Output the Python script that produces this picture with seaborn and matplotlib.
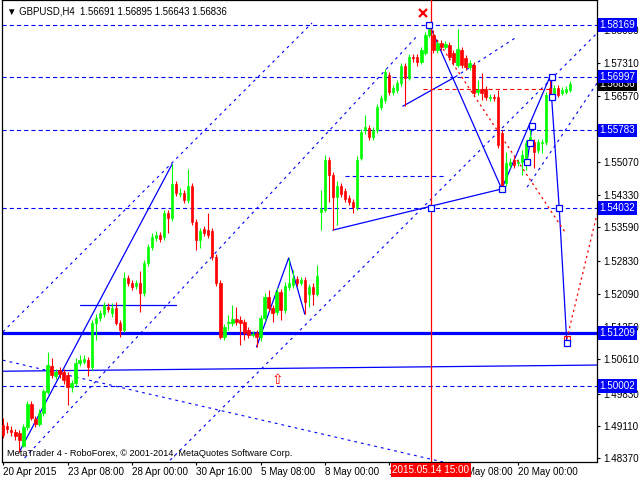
import matplotlib
matplotlib.use("Agg")
import matplotlib.pyplot as plt
import matplotlib.transforms as mtransforms
import numpy as np
import pandas as pd
import seaborn as sns

sns.set_style("white")
plt.rcParams['font.family'] = ['Liberation Sans', 'DejaVu Sans']
plt.rcParams['lines.scale_dashes'] = False

header_text = "▼ GBPUSD,H4  1.56691 1.56895 1.56643 1.56836"
copyright_text = "MetaTrader 4 - RoboForex, © 2001-2014, MetaQuotes Software Corp."

opens = [1.4913, 1.4910, 1.4901, 1.4897, 1.4894, 1.4865, 1.4908, 1.4960, 1.4926, 1.4915,
         1.4940, 1.4987, 1.5046, 1.5023, 1.5037, 1.5032, 1.5026, 1.4998, 1.5007, 1.5053,
         1.5055, 1.5059, 1.5044, 1.5143, 1.5154, 1.5163, 1.5179, 1.5166, 1.5177, 1.5143,
         1.5127, 1.5245, 1.5233, 1.5227, 1.5233, 1.5211, 1.5279, 1.5315, 1.5335, 1.5342,
         1.5337, 1.5392, 1.5380, 1.5457, 1.5435, 1.5437, 1.5421, 1.5453, 1.5371, 1.5331,
         1.5355, 1.5353, 1.5351, 1.5292, 1.5233, 1.5111, 1.5143, 1.5143, 1.5152, 1.5150,
         1.5145, 1.5127, 1.5116, 1.5120, 1.5111, 1.5154, 1.5202, 1.5177, 1.5168, 1.5213,
         1.5172, 1.5224, 1.5229, 1.5242, 1.5233, 1.5240, 1.5209, 1.5224, 1.5209, 1.5394,
         1.5398, 1.5511, 1.5478, 1.5428, 1.5453, 1.5441, 1.5426, 1.5416, 1.5405, 1.5516,
         1.5579, 1.5584, 1.5563, 1.5579, 1.5631, 1.5647, 1.5703, 1.5665, 1.5670, 1.5685,
         1.5724, 1.5697, 1.5744, 1.5744, 1.5733, 1.5753, 1.5794, 1.5794, 1.5760, 1.5776,
         1.5767, 1.5771, 1.5753, 1.5726, 1.5760, 1.5742, 1.5722, 1.5726, 1.5665, 1.5672,
         1.5672, 1.5652, 1.5654, 1.5654, 1.5572, 1.5459, 1.5500, 1.5511, 1.5505, 1.5507,
         1.5511, 1.5550, 1.5552, 1.5534, 1.5550, 1.5552, 1.5674, 1.5658, 1.5674, 1.5663,
         1.5665, 1.56691]
highs = [1.4928, 1.4919, 1.4910, 1.4903, 1.4901, 1.4915, 1.4967, 1.4967, 1.4933, 1.4949,
         1.4994, 1.5077, 1.5064, 1.5039, 1.5044, 1.5039, 1.5032, 1.5014, 1.5064, 1.5071,
         1.5071, 1.5066, 1.5150, 1.5163, 1.5172, 1.5190, 1.5188, 1.5188, 1.5190, 1.5150,
         1.5258, 1.5252, 1.5240, 1.5240, 1.5261, 1.5285, 1.5322, 1.5346, 1.5351, 1.5349,
         1.5398, 1.5398, 1.5502, 1.5464, 1.5448, 1.5444, 1.5491, 1.5459, 1.5378, 1.5358,
         1.5362, 1.5392, 1.5358, 1.5299, 1.5240, 1.5141, 1.5161, 1.5184, 1.5179, 1.5159,
         1.5152, 1.5134, 1.5125, 1.5127, 1.5161, 1.5211, 1.5218, 1.5184, 1.5222, 1.5220,
         1.5236, 1.5290, 1.5263, 1.5249, 1.5247, 1.5247, 1.5231, 1.5233, 1.5274, 1.5444,
         1.5523, 1.5518, 1.5484, 1.5464, 1.5459, 1.5448, 1.5432, 1.5423, 1.5520, 1.5581,
         1.5613, 1.5591, 1.5586, 1.5638, 1.5658, 1.5717, 1.5710, 1.5681, 1.5692, 1.5731,
         1.5731, 1.5751, 1.5751, 1.5751, 1.5767, 1.5801, 1.58169, 1.5805, 1.5783, 1.5783,
         1.5780, 1.5778, 1.5760, 1.5807, 1.5767, 1.5749, 1.5737, 1.5733, 1.5692, 1.5708,
         1.5679, 1.5661, 1.5661, 1.5670, 1.5579, 1.5529, 1.5516, 1.5518, 1.5514, 1.5534,
         1.5557, 1.5588, 1.5559, 1.5559, 1.5559, 1.5665, 1.56997, 1.5681, 1.5681, 1.5676,
         1.5679, 1.56895]
lows = [1.4883, 1.4894, 1.4888, 1.4879, 1.4852, 1.4863, 1.4901, 1.4924, 1.4908, 1.4910,
        1.4933, 1.4983, 1.5019, 1.5017, 1.5019, 1.5005, 1.4958, 1.4987, 1.5001, 1.5046,
        1.5050, 1.5023, 1.5037, 1.5105, 1.5148, 1.5157, 1.5168, 1.5157, 1.5139, 1.5111,
        1.5123, 1.5227, 1.5218, 1.5220, 1.5168, 1.5204, 1.5272, 1.5308, 1.5328, 1.5326,
        1.5331, 1.5346, 1.5374, 1.5430, 1.5428, 1.5414, 1.5414, 1.5365, 1.5308, 1.5313,
        1.5340, 1.5335, 1.5285, 1.5227, 1.5107, 1.5105, 1.5127, 1.5136, 1.5139, 1.5093,
        1.5105, 1.5109, 1.5111, 1.5089, 1.5102, 1.5148, 1.5170, 1.5145, 1.5161, 1.5150,
        1.5166, 1.5218, 1.5222, 1.5227, 1.5229, 1.5163, 1.5179, 1.5184, 1.5204, 1.5353,
        1.5394, 1.5416, 1.5353, 1.5365, 1.5428, 1.5416, 1.5410, 1.5392, 1.5398, 1.5511,
        1.5570, 1.5557, 1.5557, 1.5572, 1.5624, 1.5640, 1.5658, 1.5658, 1.5663, 1.5679,
        1.5633, 1.5692, 1.5733, 1.5724, 1.5728, 1.5749, 1.5789, 1.5753, 1.5753, 1.5760,
        1.5762, 1.5737, 1.5726, 1.5722, 1.5719, 1.5715, 1.5715, 1.5656, 1.5658, 1.5647,
        1.5647, 1.5645, 1.5645, 1.5538, 1.5446, 1.5453, 1.5493, 1.5493, 1.5498, 1.5478,
        1.5489, 1.5543, 1.5493, 1.5527, 1.5527, 1.5545, 1.5647, 1.5654, 1.5654, 1.5658,
        1.5661, 1.56643]
closes = [1.4890, 1.4903, 1.4897, 1.4888, 1.4879, 1.4908, 1.4960, 1.4928, 1.4915, 1.4940,
          1.4989, 1.5048, 1.5026, 1.5032, 1.5028, 1.5014, 1.4998, 1.5007, 1.5053, 1.5059,
          1.5062, 1.5044, 1.5143, 1.5154, 1.5166, 1.5184, 1.5175, 1.5177, 1.5143, 1.5127,
          1.5245, 1.5233, 1.5224, 1.5233, 1.5211, 1.5279, 1.5315, 1.5337, 1.5342, 1.5333,
          1.5392, 1.5380, 1.5457, 1.5437, 1.5437, 1.5421, 1.5453, 1.5371, 1.5331, 1.5351,
          1.5346, 1.5342, 1.5292, 1.5233, 1.5111, 1.5134, 1.5145, 1.5152, 1.5145, 1.5143,
          1.5120, 1.5116, 1.5118, 1.5111, 1.5154, 1.5202, 1.5177, 1.5166, 1.5213, 1.5172,
          1.5227, 1.5233, 1.5245, 1.5233, 1.5240, 1.5190, 1.5224, 1.5209, 1.5249, 1.5401,
          1.5511, 1.5478, 1.5428, 1.5453, 1.5435, 1.5423, 1.5416, 1.5405, 1.5511, 1.5575,
          1.5586, 1.5563, 1.5579, 1.5631, 1.5652, 1.5710, 1.5665, 1.5674, 1.5685, 1.5724,
          1.5697, 1.5744, 1.5742, 1.5733, 1.5760, 1.5794, 1.5807, 1.5760, 1.5776, 1.5767,
          1.5774, 1.5744, 1.5733, 1.5762, 1.5726, 1.5722, 1.5731, 1.5663, 1.5672, 1.5663,
          1.5654, 1.5654, 1.5652, 1.5545, 1.5450, 1.5505, 1.5507, 1.5500, 1.5507, 1.5523,
          1.5550, 1.5563, 1.5529, 1.5552, 1.5552, 1.5658, 1.5654, 1.5674, 1.5658, 1.5670,
          1.5672, 1.56836]

# time axis labels (bar index of each label)
date_tick_bars = [0, 16, 32, 48, 64, 80, 96, 112, 128]
date_tick_labels = ['20 Apr 2015', '23 Apr 08:00', '28 Apr 00:00', '30 Apr 16:00',
                    '5 May 08:00', '8 May 00:00', '12 May 16:00', '15 May 08:00', '20 May 00:00']
price_ticks = [1.5805, 1.5731, 1.5657, 1.5583, 1.5507, 1.5433, 1.5359, 1.5283,
               1.5209, 1.5135, 1.5061, 1.4983, 1.4911, 1.4837]
hidden_price_ticks = [1.5583]   # fully covered by a level box in the reference

# horizontal levels
dashed_levels = [1.58169, 1.56997, 1.55783, 1.54032, 1.50002]
thick_level = 1.51209
current_price = 1.56836

# zigzag and trend lines (bar index, price)
zz1_x, zz1_y = [4, 42], [1.4852, 1.5502]
zz2_x, zz2_y = [63, 71, 75], [1.5089, 1.5290, 1.5163]
zz3_x, zz3_y = [106, 124, 136], [1.58169, 1.5446, 1.56997]
proj_x, proj_y = [136.4, 136.4, 138.3, 140.2], [1.56997, 1.5654, 1.54032, 1.5098]
trendF_x, trendF_y = [82, 124], [1.5353, 1.5446]
trendG_x, trendG_y = [99.4, 112.4], [1.5633, 1.5699]
trendG_ext_x, trendG_ext_y = [112.4, 127.3], [1.5699, 1.5787]
base_x, base_y = [-0.3, 147.7], [1.5034, 1.5048]
short_x, short_y = [19.1, 43], [1.5184, 1.5184]
mini_x, mini_y = [130.3, 131.0, 131.5], [1.5507, 1.5550, 1.5588]
short_dash_x, short_dash_y = [85, 109.6], [1.5475, 1.5475]

dotted_lines = [
    ([-0.1, 76.8], [1.5123, 1.5821]),
    ([5.3, 103.2], [1.4838, 1.5794]),
    ([41.5, 147.7], [1.4833, 1.5798]),
    ([130.3, 147.7], [1.5450, 1.5685]),
    ([-0.1, 109.4], [1.5059, 1.4829]),
]

red_vline_x = 106.4
red_vline_label = "2015.05.14 15:00"
red_dash_x, red_dash_y = [104.4, 136.5], [1.5671, 1.5671]
red_dot1_x, red_dot1_y = [107.9, 139.7], [1.5783, 1.5349]
red_dot2_x, red_dot2_y = [140.2, 147.7], [1.5107, 1.5389]
red_x_mark = (104.4, 1.5844)
red_arrow = (68.3, 1.5014)

square_x = [106, 124, 136.4, 136.4, 138.3, 140.2, 131.5, 131.0, 130.3, 106.4]
square_y = [1.58169, 1.5446, 1.56997, 1.5654, 1.54032, 1.5098, 1.5588, 1.5550, 1.5507, 1.54032]
red_square = (140.2, 1.5107)

BLUE = '#0000ff'
RED = '#ff0000'
GREEN = '#00ff00'

df = pd.DataFrame({'open': opens, 'high': highs, 'low': lows, 'close': closes})
df['bar'] = np.arange(len(df))
df['up'] = df['close'] >= df['open']

fig = plt.figure(figsize=(6.4, 4.8), dpi=100)
ax = fig.add_axes([2 / 640, 18 / 480, 595 / 640, 462 / 480])
ax.set_facecolor('white')
ax.set_xlim(-0.32, 147.7)
ax.set_ylim(1.48289, 1.5873)

dash_h = (0, (3.0, 2.2))
dot_d = (0, (2.0, 2.9))

# horizontal levels
for lv in dashed_levels:
    ax.axhline(lv, color=BLUE, lw=0.8, linestyle=dash_h, zorder=1)
ax.axhline(thick_level, color=BLUE, lw=2.3, zorder=1)

# dotted channels
for xs, ys in dotted_lines:
    ax.plot(xs, ys, color=BLUE, lw=0.8, linestyle=dot_d, zorder=1)
ax.plot(trendG_ext_x, trendG_ext_y, color=BLUE, lw=0.8, linestyle=dot_d, zorder=1)
ax.plot(short_dash_x, short_dash_y, color=BLUE, lw=0.8, linestyle=dash_h, zorder=1)

# solid lines
for xs, ys in [(zz1_x, zz1_y), (zz2_x, zz2_y), (zz3_x, zz3_y), (proj_x, proj_y),
               (trendF_x, trendF_y), (trendG_x, trendG_y), (base_x, base_y),
               (short_x, short_y), (mini_x, mini_y)]:
    sns.lineplot(x=xs, y=ys, ax=ax, color=BLUE, lw=0.9, sort=False, estimator=None, zorder=2)

# candles
colors = np.where(df['up'], GREEN, RED)
ax.vlines(df['bar'], df['low'], df['high'], colors=colors, lw=0.8, zorder=3)
body_bottom = np.minimum(df['open'], df['close'])
body_height = np.maximum(np.abs(df['close'] - df['open']), 0.00008)
ax.bar(df['bar'], body_height, bottom=body_bottom, width=0.58, color=colors,
       edgecolor=colors, linewidth=0.5, zorder=3)

# red objects
ax.axvline(red_vline_x, color=RED, lw=0.9, zorder=4)
ax.plot(red_dash_x, red_dash_y, color=RED, lw=0.8, linestyle=dash_h, zorder=4)
ax.plot(red_dot1_x, red_dot1_y, color=RED, lw=0.9, linestyle=(0, (1.6, 2.4)), zorder=4)
ax.plot(red_dot2_x, red_dot2_y, color=RED, lw=0.9, linestyle=(0, (1.6, 2.4)), zorder=4)
ax.plot([red_x_mark[0]], [red_x_mark[1]], marker='x', color=RED, ms=5.5, mew=1.6, zorder=5)
ax.text(red_arrow[0], red_arrow[1], '⇧', color=RED, fontsize=10, ha='center', va='center',
        family=['DejaVu Sans'], zorder=5)
ax.plot([red_square[0]], [red_square[1]], marker='s', ms=4.5, mfc='none', mec=RED, mew=0.8,
        ls='none', zorder=5)

# blue squares
ax.plot(square_x, square_y, marker='s', ms=4.6, mfc='white', mec=BLUE, mew=0.9, ls='none', zorder=6)

# axes styling
for s in ax.spines.values():
    s.set_color('black')
    s.set_linewidth(0.9)
ax.yaxis.tick_right()
ax.set_yticks(price_ticks)
ax.set_yticklabels(['' if p in hidden_price_ticks else f"{p:.5f}" for p in price_ticks])
ax.set_xticks(date_tick_bars)
ax.set_xticklabels(date_tick_labels)
for lab in ax.get_xticklabels():
    lab.set_horizontalalignment('left')
ax.tick_params(axis='y', direction='out', length=2.5, width=0.8, pad=2.3, labelsize=7.1,
               colors='black', right=True, left=False)
ax.tick_params(axis='x', direction='out', length=2.5, width=0.8, pad=1.2, labelsize=7.1,
               colors='black', bottom=True)
ax.grid(False)

# price boxes on right axis
trans_r = mtransforms.blended_transform_factory(ax.transAxes, ax.transData)
ax.text(1.0045, current_price, f"{current_price:.5f}", transform=trans_r, color='white',
        fontsize=7.1, va='center', ha='left', zorder=7, clip_on=False,
        bbox=dict(boxstyle='square,pad=0.18', fc='black', ec='none'))
for lv in dashed_levels + [thick_level]:
    ax.text(1.0045, lv, f"{lv:.5f}", transform=trans_r, color='white', fontsize=7.1,
            va='center', ha='left', zorder=8, clip_on=False,
            bbox=dict(boxstyle='square,pad=0.18', fc=BLUE, ec='none'))

# time box
trans_b = mtransforms.blended_transform_factory(ax.transData, ax.transAxes)
ax.text(red_vline_x, -0.0175, red_vline_label, transform=trans_b, color='white', fontsize=7.1,
        va='center', ha='center', zorder=8, clip_on=False,
        bbox=dict(boxstyle='square,pad=0.2', fc=RED, ec='none'))

fig.text(7 / 640, 1 - 11 / 480, header_text, fontsize=6.9, color='black', va='center', ha='left')
fig.text(7 / 640, 1 - 454 / 480, copyright_text, fontsize=6.6, color='black', va='center', ha='left')

fig.savefig('out.png', dpi=100, facecolor='white')
